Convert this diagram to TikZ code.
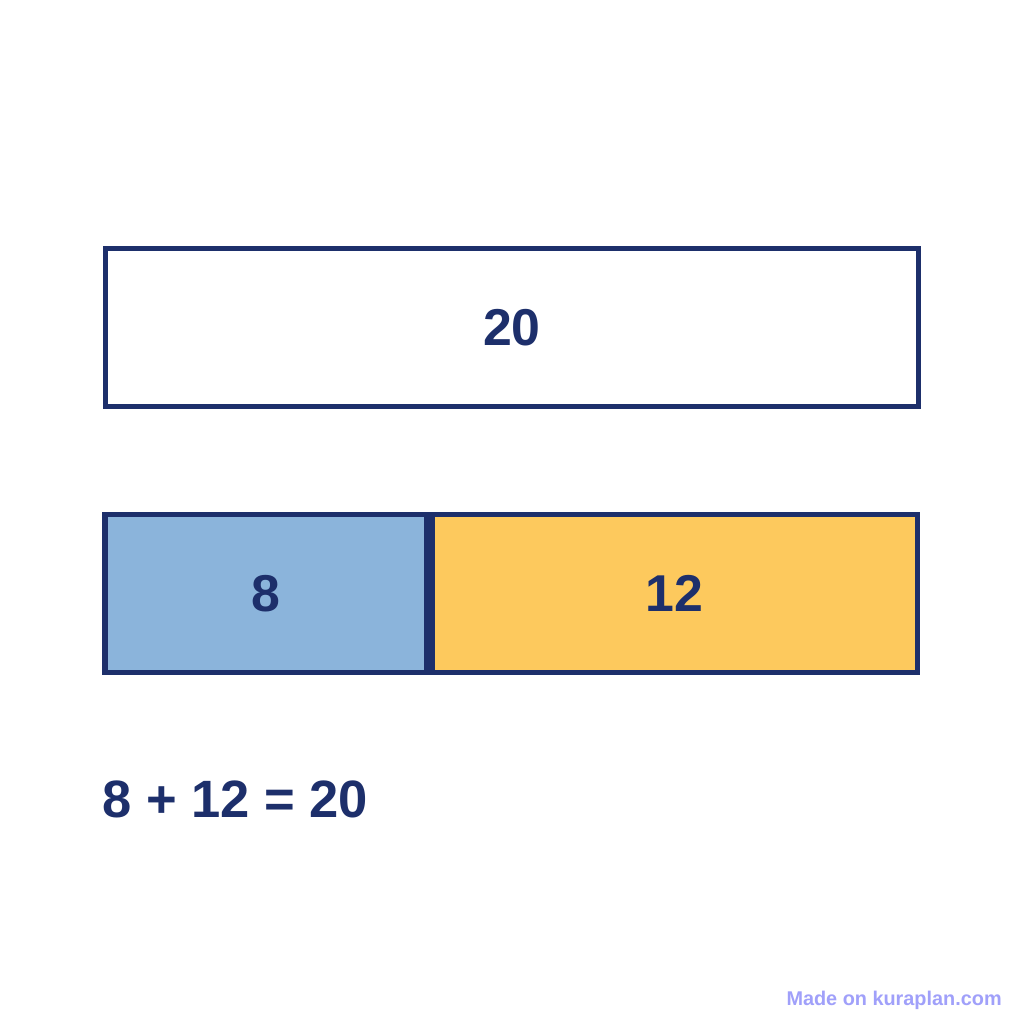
\documentclass[tikz,border=0pt]{standalone}
\usepackage{fontspec}
\setsansfont{Liberation Sans}
\usetikzlibrary{positioning}
\definecolor{navy}{RGB}{29,47,107}
\definecolor{partblue}{RGB}{139,180,219}
\definecolor{partorange}{RGB}{253,201,93}
\definecolor{credit}{RGB}{160,160,250}

\begin{document}
\begin{tikzpicture}[x=0.02cm,y=-0.02cm]
\tikzstyle{every node}=[font=\sffamily\bfseries\fontsize{29.5}{34}\selectfont, text=navy]
\tikzstyle{bar}=[draw=navy, line width=3pt, minimum height=3.16cm, inner sep=0pt]

\useasboundingbox[fill=white] (0,0) rectangle (1024,1024);

\node[bar, minimum width=16.26cm] at (512,327.5) (whole) {20};
\node[bar, fill=partblue, minimum width=6.44cm] at (266,593.5) (partA) {8};
\node[bar, fill=partorange, minimum width=9.7cm, right=0pt of partA] (partB) {12};

\node[anchor=base west, inner sep=0pt, font=\sffamily\bfseries\fontsize{29.9}{35}\selectfont] at (102,817) (sum) {8 + 12 = 20};
\node[anchor=base east, inner sep=0pt, text=credit, font=\sffamily\bfseries\fontsize{11.3}{14}\selectfont] at (1002,1005) (madeon) {Made on kuraplan.com};
\end{tikzpicture}
\end{document}
